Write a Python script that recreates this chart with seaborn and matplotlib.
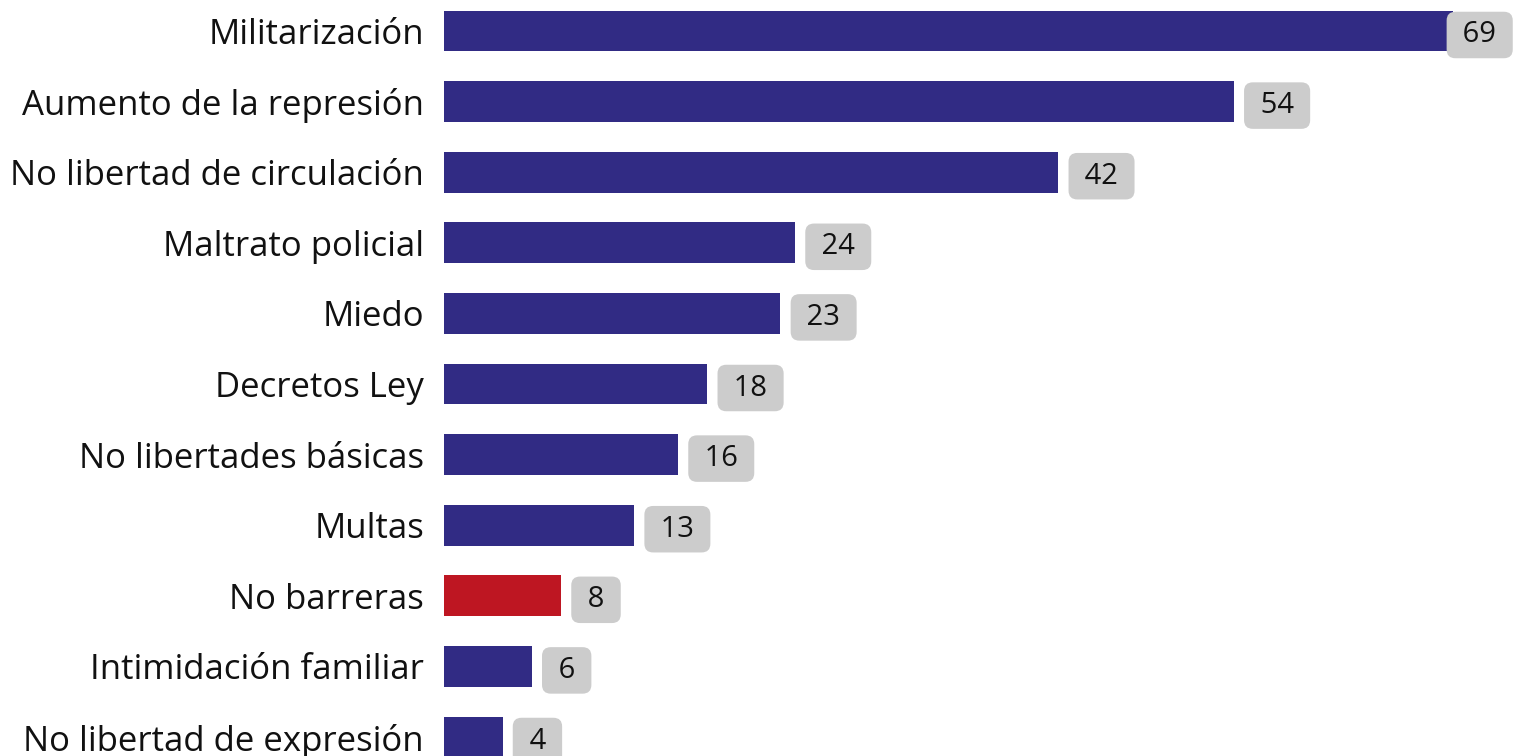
import seaborn as sns
import matplotlib.pyplot as plt
import pandas as pd

categories = ["Militarización", "Aumento de la represión", "No libertad de circulación",
              "Maltrato policial", "Miedo", "Decretos Ley", "No libertades básicas",
              "Multas", "No barreras", "Intimidación familiar", "No libertad de expresión"]
values = [69, 54, 42, 24, 23, 18, 16, 13, 8, 6, 4]
highlight = "No barreras"

navy = "#312b84"
red = "#be1622"

df = pd.DataFrame({"cat": categories, "val": values})
palette = {c: (red if c == highlight else navy) for c in categories}

sns.set_theme(style="white")
plt.rcParams["font.family"] = ["Open Sans", "DejaVu Sans"]

fig = plt.figure(figsize=(15.19, 7.56), dpi=100)
ax = fig.add_axes([444 / 1519, 0, 1 - 444 / 1519, 1])

sns.barplot(data=df, x="val", y="cat", hue="cat", palette=palette, legend=False,
            orient="h", width=0.58, saturation=1, linewidth=0, ax=ax)

ax.set_xlim(0, 73.5)
ax.set_ylim(10.269, -0.439)
ax.set_xlabel("")
ax.set_ylabel("")
ax.set_xticks([])
sns.despine(ax=ax, left=True, bottom=True)
ax.tick_params(axis="y", length=0, pad=14.4, labelsize=25, labelcolor="#111111")

box = dict(boxstyle="round,pad=0.3,rounding_size=0.3", fc="#cccccc", ec="none")
vmax = max(values)
for i, v in enumerate(values):
    label = " %d " % v
    if v == vmax:
        # last one is pushed back against the right edge
        ax.annotate(label, xy=(1, i), xycoords=("axes fraction", "data"),
                    xytext=(-15, -4), textcoords="offset pixels",
                    ha="right", va="center", fontsize=21, color="#111111", bbox=box)
    else:
        ax.annotate(label, xy=(v, i), xytext=(19, -4), textcoords="offset pixels",
                    ha="left", va="center", fontsize=21, color="#111111", bbox=box)

plt.savefig("out.png", dpi=100)
plt.close()
